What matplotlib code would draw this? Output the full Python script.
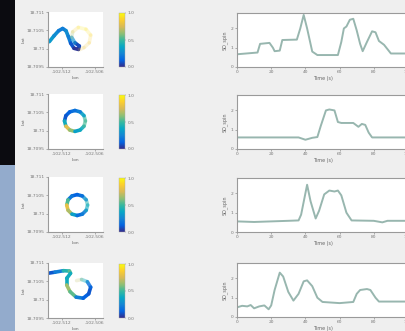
import numpy as np
import matplotlib
matplotlib.use("Agg")
import matplotlib.pyplot as plt
from matplotlib.collections import LineCollection
from matplotlib.colors import LinearSegmentedColormap, Normalize
from matplotlib.patches import Rectangle

# ---- GPS tracks (lon / lat), colour value and opacity per waypoint ----
r1_lon = [-102.51426, -102.51341, -102.51256, -102.51183, -102.51123, -102.5108,
          -102.51038, -102.50977, -102.50898, -102.5088, -102.5096, -102.5102,
          -102.51001, -102.50898, -102.5076, -102.50674, -102.507, -102.50795, -102.5088]
r1_lat = [18.71019, 18.71035, 18.71049, 18.71055, 18.71049, 18.71033, 18.71015,
          18.71001, 18.70998, 18.71007, 18.71016, 18.71031, 18.71046, 18.71058,
          18.71053, 18.71037, 18.71016, 18.71003, 18.70997]
r1_c = [0.35, 0.3, 0.25, 0.2, 0.25, 0.3, 0.15, 0.05, 0.0, 0.05, 0.1, 0.5, 0.8,
        0.95, 0.95, 0.9, 0.85, 0.8, 0.8]
r1_a = [1, 1, 1, 1, 1, 1, 1, 1, 1, 1, 1, 0.3, 0.2, 0.2, 0.2, 0.2, 0.2, 0.2, 0.2]

r2_lon = [-102.5077, -102.50795, -102.50865, -102.5096, -102.51055, -102.51125,
          -102.5115, -102.51125, -102.51055, -102.5096, -102.50865, -102.50795, -102.5077]
r2_lat = [18.710265, 18.710408, 18.710512, 18.71055, 18.710512, 18.710408,
          18.710265, 18.710123, 18.710018, 18.70998, 18.710018, 18.710123, 18.710265]
r2_c = [0.55, 0.45, 0.25, 0.2, 0.15, 0.1, 0.1, 0.7, 0.85, 0.4, 0.3, 0.5, 0.55]
r2_a = [0.5, 0.8, 1, 1, 1, 1, 1, 1, 1, 1, 1, 0.8, 0.5]

r3_lon = [-102.5073, -102.50755, -102.50825, -102.5092, -102.51015, -102.51085,
          -102.5111, -102.51085, -102.51015, -102.5092, -102.50825, -102.50755, -102.5073]
r3_lat = [18.710235, 18.710378, 18.710482, 18.71052, 18.710482, 18.710378,
          18.710235, 18.710093, 18.709988, 18.70995, 18.709988, 18.710093, 18.710235]
r3_c = [0.5, 0.4, 0.2, 0.15, 0.1, 0.3, 0.75, 0.85, 0.5, 0.2, 0.15, 0.3, 0.5]
r3_a = [0.4, 0.6, 1, 1, 1, 1, 1, 1, 1, 1, 1, 0.8, 0.4]

r4_lon = [-102.5145, -102.51323, -102.5117, -102.5106, -102.5104, -102.5111,
          -102.5111, -102.5105, -102.5094, -102.5081, -102.5071, -102.50674,
          -102.50735, -102.5084, -102.5093]
r4_lat = [18.71072, 18.71075, 18.71079, 18.71078, 18.71072, 18.71058, 18.7104,
          18.71022, 18.71007, 18.71004, 18.71016, 18.71034, 18.71049, 18.71055, 18.71052]
r4_c = [0.05, 0.15, 0.3, 0.6, 0.5, 0.3, 0.5, 0.8, 0.3, 0.15, 0.1, 0.1, 0.2, 0.6, 0.8]
r4_a = [1, 1, 1, 1, 1, 1, 1, 1, 1, 1, 1, 1, 0.6, 0.25, 0.2]

# ---- speed traces ----
s1_t = [0, 12, 13.5, 19, 21, 22, 25, 26.5, 35, 37, 39, 41, 44, 47, 59, 61, 62.5, 64,
        66, 68, 70, 72, 73.5, 76, 79, 81, 83, 86, 90, 100]
s1_v = [0.66, 0.75, 1.2, 1.25, 1.0, 0.82, 0.85, 1.4, 1.42, 2.0, 2.7, 2.0, 0.8, 0.62,
        0.62, 1.3, 2.0, 2.1, 2.45, 2.5, 1.9, 1.2, 0.82, 1.3, 1.85, 1.8, 1.35, 1.15, 0.7, 0.7]
s2_t = [0, 36, 40, 44, 47, 49, 52, 54, 57, 59, 61, 68, 71, 73, 75, 77, 79, 100]
s2_v = [0.6, 0.6, 0.48, 0.58, 0.62, 1.2, 2.0, 2.05, 2.0, 1.4, 1.35, 1.35, 1.15, 1.3,
        1.25, 0.85, 0.6, 0.6]
s3_t = [0, 10, 20, 30, 36, 37.5, 41, 43, 46, 48, 51, 54, 57, 59, 61, 64, 67, 80, 85, 88, 100]
s3_v = [0.55, 0.52, 0.55, 0.58, 0.6, 0.9, 2.45, 1.6, 0.7, 1.1, 1.95, 2.15, 2.1, 2.15,
        1.9, 1.0, 0.6, 0.58, 0.5, 0.58, 0.58]
s4_t = [0, 3, 6, 8, 10, 13, 16, 18.5, 20, 22, 25, 27, 30, 33, 36, 39, 41, 44, 47, 50,
        60, 68, 70, 72, 76, 78, 81, 83, 100]
s4_v = [0.5, 0.58, 0.55, 0.62, 0.45, 0.55, 0.6, 0.4, 0.6, 1.4, 2.3, 2.1, 1.3, 0.85,
        1.2, 1.85, 1.9, 1.6, 1.0, 0.78, 0.72, 0.78, 1.2, 1.4, 1.45, 1.4, 1.0, 0.8, 0.8]

lat_ticks = [18.7095, 18.71, 18.7105, 18.711]
lat_labels = ["18.7095", "18.71", "18.7105", "18.711"]
lon_ticks = [-102.512, -102.506]
lon_labels = ["-102.512", "-102.506"]
time_ticks = [0, 20, 40, 60, 80, 100]
speed_ticks = [0, 1, 2]
cbar_ticks = [0, 0.5, 1]

tracks = [
    (r1_lon, r1_lat, r1_c, r1_a),
    (r2_lon, r2_lat, r2_c, r2_a),
    (r3_lon, r3_lat, r3_c, r3_a),
    (r4_lon, r4_lat, r4_c, r4_a),
]
speeds = [(s1_t, s1_v), (s2_t, s2_v), (s3_t, s3_v), (s4_t, s4_v)]

parula = LinearSegmentedColormap.from_list(
    "parula",
    ["#352a87", "#0363e1", "#1485d4", "#06a7c6", "#38b99e",
     "#92bf73", "#d9ba56", "#fcce2e", "#f9fb0e"],
)

W, H = 405, 331
fig = plt.figure(figsize=(W / 100, H / 100), dpi=100, facecolor="#efefef")

# desktop strip on the left edge
fig.patches.append(Rectangle((0, 1 - 165 / H), 15 / W, 165 / H, transform=fig.transFigure,
                             facecolor="#0b0b10", edgecolor="none", zorder=-1))
fig.patches.append(Rectangle((0, 0), 15 / W, 1 - 165 / H, transform=fig.transFigure,
                             facecolor="#93abcc", edgecolor="none", zorder=-1))

FS = 3.2
GRID_C = "#9a9a9a"


def px_rect(x, y, w, h):
    return [x / W, 1 - (y + h) / H, w / W, h / H]


def style_axes(ax):
    for s in ax.spines.values():
        s.set_color(GRID_C)
        s.set_linewidth(0.8)
    ax.tick_params(labelsize=FS, length=1.5, width=0.4, colors="#777777", pad=1)


left_tops = [12, 94, 177, 263]
right_tops = [13, 95, 178, 263]
norm = Normalize(0, 1)

for row in range(4):
    lon, lat, cval, alph = tracks[row]
    ax = fig.add_axes(px_rect(48, left_tops[row], 55, 55))
    ax.set_xlim(-102.5145, -102.5045)
    ax.set_ylim(18.7095, 18.711)
    pts = np.column_stack([lon, lat])
    segs = np.stack([pts[:-1], pts[1:]], axis=1)
    cols = parula(norm((np.array(cval[:-1]) + np.array(cval[1:])) / 2))
    cols[:, 3] = (np.array(alph[:-1]) + np.array(alph[1:])) / 2
    lc = LineCollection(segs, colors=cols, linewidths=2.6, capstyle="round", joinstyle="round")
    ax.add_collection(lc)
    ax.set_xticks(lon_ticks)
    ax.set_xticklabels(lon_labels)
    ax.set_yticks(lat_ticks)
    ax.set_yticklabels(lat_labels)
    ax.set_xlabel("Lon", fontsize=FS, color="#666666", labelpad=1)
    ax.set_ylabel("Lat", fontsize=FS, color="#666666", labelpad=1)
    style_axes(ax)
    for side in ("top", "right"):
        ax.spines[side].set_visible(False)

    cax = fig.add_axes(px_rect(119, left_tops[row] + 1, 6, 54))
    sm = plt.cm.ScalarMappable(norm=norm, cmap=parula)
    cb = fig.colorbar(sm, cax=cax, ticks=cbar_ticks)
    cb.outline.set_linewidth(0.3)
    cb.outline.set_edgecolor("#aaaaaa")
    cax.tick_params(labelsize=FS, length=1, width=0.3, colors="#777777", pad=1)

    t, v = speeds[row]
    bx = fig.add_axes(px_rect(237, right_tops[row], 171, 54))
    bx.plot(t, v, color="#86aaa1", linewidth=1.4, alpha=0.85)
    bx.set_xlim(0, 100)
    bx.set_ylim(0, 2.8)
    bx.set_xticks(time_ticks)
    bx.set_yticks(speed_ticks)
    bx.set_xlabel("Time (s)", fontsize=FS + 0.3, color="#666666", labelpad=1)
    bx.set_ylabel("SO_spin", fontsize=FS + 0.3, color="#666666", labelpad=2)
    style_axes(bx)

fig.savefig("out.png", dpi=100, facecolor=fig.get_facecolor())
